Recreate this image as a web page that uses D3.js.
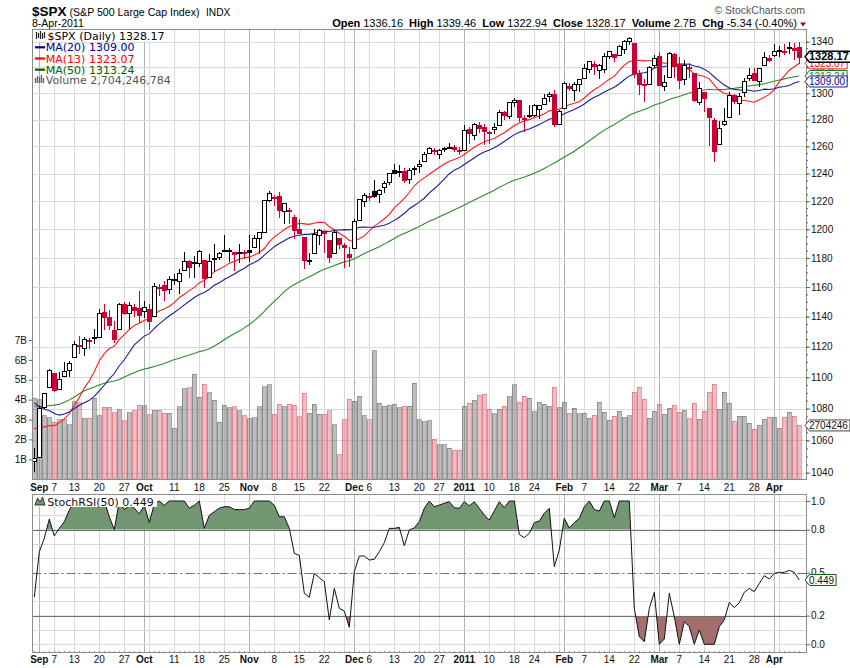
<!DOCTYPE html>
<html>
<head>
<meta charset="utf-8">
<script src="https://cdn.jsdelivr.net/npm/d3@7"></script>
<style>
  body { margin: 0; background: #fff; }
  svg { display: block; }
</style>
</head>
<body>
<div id="chart"></div>
<script>
//Trading days on the chart
const dates = [
  "2010-08-31",
  "2010-09-01","2010-09-02","2010-09-03","2010-09-07","2010-09-08","2010-09-09","2010-09-10","2010-09-13","2010-09-14","2010-09-15","2010-09-16","2010-09-17","2010-09-20","2010-09-21","2010-09-22","2010-09-23","2010-09-24","2010-09-27","2010-09-28","2010-09-29","2010-09-30",
  "2010-10-01","2010-10-04","2010-10-05","2010-10-06","2010-10-07","2010-10-08","2010-10-11","2010-10-12","2010-10-13","2010-10-14","2010-10-15","2010-10-18","2010-10-19","2010-10-20","2010-10-21","2010-10-22","2010-10-25","2010-10-26","2010-10-27","2010-10-28","2010-10-29",
  "2010-11-01","2010-11-02","2010-11-03","2010-11-04","2010-11-05","2010-11-08","2010-11-09","2010-11-10","2010-11-11","2010-11-12","2010-11-15","2010-11-16","2010-11-17","2010-11-18","2010-11-19","2010-11-22","2010-11-23","2010-11-24","2010-11-26","2010-11-29","2010-11-30",
  "2010-12-01","2010-12-02","2010-12-03","2010-12-06","2010-12-07","2010-12-08","2010-12-09","2010-12-10","2010-12-13","2010-12-14","2010-12-15","2010-12-16","2010-12-17","2010-12-20","2010-12-21","2010-12-22","2010-12-23","2010-12-27","2010-12-28","2010-12-29","2010-12-30","2010-12-31",
  "2011-01-03","2011-01-04","2011-01-05","2011-01-06","2011-01-07","2011-01-10","2011-01-11","2011-01-12","2011-01-13","2011-01-14","2011-01-18","2011-01-19","2011-01-20","2011-01-21","2011-01-24","2011-01-25","2011-01-26","2011-01-27","2011-01-28","2011-01-31",
  "2011-02-01","2011-02-02","2011-02-03","2011-02-04","2011-02-07","2011-02-08","2011-02-09","2011-02-10","2011-02-11","2011-02-14","2011-02-15","2011-02-16","2011-02-17","2011-02-18","2011-02-22","2011-02-23","2011-02-24","2011-02-25","2011-02-28",
  "2011-03-01","2011-03-02","2011-03-03","2011-03-04","2011-03-07","2011-03-08","2011-03-09","2011-03-10","2011-03-11","2011-03-14","2011-03-15","2011-03-16","2011-03-17","2011-03-18","2011-03-21","2011-03-22","2011-03-23","2011-03-24","2011-03-25","2011-03-28","2011-03-29","2011-03-30","2011-03-31",
  "2011-04-01","2011-04-04","2011-04-05","2011-04-06","2011-04-07","2011-04-08"
];

const opens = [
  1046.88,
  1049.72,1080.66,1093.61,1102.60,1092.36,1101.15,1104.57,1113.38,1121.16,1119.43,1123.89,1126.39,1126.57,1142.82,1139.49,1131.10,1131.69,1148.64,1142.31,1146.75,1145.97,
  1143.49,1144.96,1140.68,1159.81,1161.57,1158.36,1165.32,1164.28,1171.32,1177.82,1177.47,1176.83,1178.64,1166.74,1179.82,1180.52,1184.74,1184.88,1183.84,1184.47,1183.87,
  1185.71,1187.86,1193.79,1198.34,1221.20,1223.24,1223.59,1213.14,1213.04,1209.07,1200.44,1194.79,1178.33,1183.75,1196.12,1198.07,1192.51,1183.70,1194.16,1189.08,1182.96,
  1186.60,1206.81,1219.93,1223.87,1227.25,1225.02,1230.14,1233.85,1242.52,1241.84,1241.58,1236.34,1243.63,1245.76,1249.43,1254.94,1257.53,1254.66,1259.10,1258.78,1259.44,1256.76,
  1257.62,1272.95,1268.78,1276.29,1274.41,1270.84,1272.58,1275.65,1285.78,1282.90,1293.22,1294.52,1280.85,1283.63,1283.29,1288.17,1291.97,1297.51,1299.63,1276.50,
  1289.14,1305.91,1302.77,1307.01,1311.85,1318.76,1322.48,1318.13,1318.66,1328.73,1330.43,1329.51,1334.37,1340.38,1338.91,1315.44,1307.09,1307.34,1321.61,
  1328.64,1305.47,1312.37,1330.73,1322.72,1311.05,1319.92,1315.72,1293.43,1301.19,1288.46,1279.46,1261.61,1276.71,1281.65,1298.29,1292.19,1300.61,1311.80,1315.45,1309.37,1321.89,1327.44,
  1329.48,1333.56,1332.03,1335.94,1334.82,1336.16
];

const highs = [
  1055.14,
  1081.30,1090.10,1105.10,1102.60,1103.26,1110.27,1110.88,1123.87,1127.36,1126.46,1125.44,1131.47,1144.86,1148.59,1144.38,1136.77,1148.90,1149.92,1150.00,1148.63,1157.16,
  1150.30,1148.16,1162.76,1162.33,1163.87,1167.73,1168.68,1172.58,1184.38,1178.89,1181.20,1185.53,1178.64,1182.94,1189.43,1183.93,1196.14,1187.11,1183.84,1189.53,1185.46,
  1195.81,1195.88,1198.30,1221.25,1227.08,1224.57,1226.84,1218.75,1215.45,1210.50,1207.43,1194.79,1183.56,1200.29,1199.97,1198.94,1192.51,1198.62,1194.16,1190.34,1187.40,
  1207.61,1221.89,1225.57,1225.80,1235.05,1228.93,1234.71,1240.40,1246.73,1246.59,1244.25,1243.75,1245.81,1250.20,1255.82,1259.39,1258.59,1258.43,1259.90,1262.60,1261.09,1259.34,
  1276.17,1274.12,1277.63,1278.17,1276.83,1271.52,1277.25,1286.87,1286.70,1293.24,1296.06,1294.60,1283.35,1291.21,1291.93,1291.26,1299.74,1301.29,1302.67,1287.17,
  1308.86,1307.61,1308.60,1311.00,1322.85,1324.87,1324.54,1322.76,1330.79,1332.96,1330.43,1337.61,1341.50,1344.07,1338.91,1317.91,1310.91,1320.61,1329.38,
  1332.09,1314.19,1332.28,1331.08,1327.68,1325.74,1323.21,1315.72,1308.35,1301.19,1288.46,1280.91,1278.88,1288.88,1300.58,1299.35,1300.51,1311.34,1319.18,1319.74,1319.45,1331.74,1329.77,
  1337.85,1336.74,1338.21,1339.38,1338.80,1339.46
];

const lows = [
  1040.88,
  1049.72,1080.39,1093.61,1091.15,1092.36,1101.15,1101.15,1113.38,1115.58,1114.63,1118.88,1122.43,1126.57,1131.87,1131.58,1122.79,1131.69,1142.00,1132.09,1140.26,1136.08,
  1139.42,1131.87,1140.68,1154.85,1151.41,1155.58,1162.02,1155.71,1171.32,1166.71,1167.12,1174.55,1159.71,1166.74,1171.17,1178.99,1184.74,1177.72,1171.70,1177.10,1179.70,
  1177.65,1187.86,1183.56,1198.34,1220.29,1217.55,1208.94,1204.33,1204.49,1194.08,1197.15,1173.00,1175.82,1183.75,1189.44,1184.29,1176.91,1183.70,1186.93,1173.64,1174.14,
  1186.60,1206.81,1216.82,1220.67,1223.25,1219.50,1226.85,1232.58,1240.34,1238.17,1234.01,1232.85,1239.87,1241.51,1249.43,1254.94,1254.05,1251.48,1256.22,1258.78,1256.32,1254.19,
  1257.62,1262.66,1265.36,1270.43,1261.70,1262.18,1269.62,1275.65,1280.47,1281.24,1290.16,1278.92,1271.26,1282.07,1282.47,1281.07,1291.97,1294.41,1275.10,1276.50,
  1289.14,1302.62,1294.83,1301.67,1311.85,1316.03,1314.89,1311.74,1316.08,1326.90,1324.61,1329.51,1331.00,1338.12,1312.33,1299.55,1294.26,1307.34,1320.55,
  1306.14,1302.58,1312.37,1312.59,1303.99,1306.86,1312.27,1294.21,1291.99,1286.37,1261.12,1249.05,1261.61,1276.18,1281.65,1292.70,1284.05,1297.74,1310.15,1310.19,1305.26,1321.89,1325.03,
  1328.89,1329.10,1330.03,1331.09,1326.56,1322.94
];

const closes = [
  1049.33,
  1080.29,1090.10,1104.51,1091.84,1098.87,1104.18,1109.55,1121.90,1121.10,1125.07,1124.66,1125.59,1142.71,1139.78,1134.28,1124.83,1148.67,1142.16,1147.70,1144.73,1141.20,
  1146.24,1137.03,1160.75,1159.97,1158.06,1165.15,1165.32,1169.77,1178.10,1173.81,1176.19,1184.71,1165.90,1178.17,1180.26,1183.08,1185.62,1185.64,1182.45,1183.78,1183.26,
  1184.38,1193.57,1197.96,1221.06,1225.85,1223.25,1213.40,1218.71,1213.54,1199.21,1197.75,1178.34,1178.59,1196.69,1199.73,1197.84,1180.73,1198.35,1189.40,1187.76,1180.55,
  1206.07,1221.53,1224.71,1223.12,1223.75,1228.28,1233.00,1240.40,1240.46,1241.59,1235.23,1242.87,1243.91,1247.08,1254.60,1258.84,1256.77,1257.54,1258.51,1259.78,1257.88,1257.64,
  1271.87,1270.20,1276.56,1273.85,1271.50,1269.75,1274.48,1285.96,1283.76,1293.24,1295.02,1281.92,1280.26,1283.35,1290.84,1291.18,1296.63,1299.54,1276.34,1286.12,
  1307.59,1304.03,1307.10,1310.87,1319.05,1324.57,1320.88,1321.87,1329.15,1332.32,1328.01,1336.32,1340.43,1343.01,1315.44,1307.40,1306.10,1319.88,1327.22,
  1306.33,1308.44,1330.97,1321.15,1310.13,1321.82,1320.02,1295.11,1304.28,1296.39,1281.87,1256.88,1273.72,1279.21,1298.38,1293.77,1297.54,1309.66,1313.80,1310.19,1319.44,1328.26,1325.83,
  1332.41,1332.87,1332.63,1335.54,1333.51,1328.17
];

//Closes before the first visible day (needed by the moving averages)
const priorCloses = [
  1113.20,1095.31,1092.04,1073.69,1076.76,1074.57,1041.24,1030.71,
  1027.37,1022.58,1028.06,1060.27,1070.25,1077.96,1078.75,1095.34,1095.17,1096.48,1064.88,1071.25,1083.48,1069.59,1093.67,1102.66,1115.01,1113.84,1106.13,1101.53,1101.60,
  1125.86,1120.46,1127.24,1125.81,1121.64,1127.79,1121.06,1089.47,1083.61,1079.25,1079.38,1092.54,1094.16,1075.63,1071.69,1067.36,1051.87,1055.33,1047.22,1064.59,1048.92
];

//Volume, billions of shares
const volumes = [
  4.06,4.00,3.20,3.08,2.86,2.98,3.00,2.73,3.90,3.85,
  3.06,3.06,4.07,3.18,3.63,3.63,3.33,3.48,2.93,3.33,
  3.43,3.73,3.70,3.23,3.47,3.47,3.31,3.31,2.56,3.65,
  4.54,4.60,5.27,4.13,4.77,4.34,3.98,2.86,3.72,3.60,
  3.65,3.43,3.18,3.03,3.09,3.65,4.65,4.74,3.26,3.78,
  3.65,3.78,3.73,3.15,4.32,3.31,3.77,3.26,3.26,3.43,
  2.73,1.22,2.98,4.03,3.93,4.18,3.18,2.98,6.45,3.82,
  3.68,3.71,3.77,3.60,3.68,3.68,4.82,2.98,2.88,2.93,
  2.00,1.72,1.72,1.55,1.45,1.45,3.68,3.83,3.97,4.22,
  4.27,3.53,3.28,3.53,3.68,4.15,4.74,3.88,4.18,4.08,
  3.38,3.88,3.77,3.67,4.62,3.60,3.88,3.31,3.57,3.28,
  3.31,3.06,3.21,3.88,3.36,2.96,3.16,3.41,3.11,3.18,
  4.37,4.62,4.03,3.06,3.41,3.77,3.26,3.57,3.72,3.36,
  3.46,3.03,3.82,3.01,3.41,4.37,4.77,3.52,4.37,3.82,
  2.91,3.16,3.16,2.81,2.51,2.71,3.01,3.11,3.11,2.56,
  3.11,3.36,3.16,2.704
];

//StochRSI(50)
const stochRsi = [
  0.33,0.646,0.74,0.874,0.756,0.81,0.856,0.937,1,1,
  1,1,1,1,1,0.89,0.8,1,0.94,0.97,
  0.95,0.91,0.97,0.85,0.98,1,0.97,1,1,1,
  1,0.95,0.97,1,0.81,0.9,0.925,0.95,0.96,0.96,
  0.94,0.94,0.94,0.95,1,1,1,1,0.97,0.89,
  0.89,0.81,0.635,0.62,0.356,0.328,0.495,0.465,0.437,0.17,
  0.39,0.251,0.232,0.119,0.507,0.616,0.616,0.588,0.593,0.646,
  0.709,0.809,0.809,0.816,0.688,0.798,0.812,0.856,0.949,1,
  0.96,0.972,0.984,0.995,0.953,0.949,0.995,0.967,0.995,0.949,
  0.902,0.867,0.93,0.995,0.953,1,1,0.767,0.744,0.775,
  0.849,0.86,0.914,0.949,0.542,0.658,0.879,0.812,0.849,0.879,
  0.96,1,0.94,0.93,1,1,0.884,1,1,1,
  0.251,0.053,0.018,0.251,0.363,0,0.037,0.356,0.193,0,
  0.158,0.123,0,0.1,0,0,0,0.123,0.17,0.293,
  0.256,0.29,0.363,0.39,0.367,0.425,0.479,0.456,0.495,0.502,
  0.502,0.516,0.502,0.449
];

//Tick labels and grid dates
const axisLabelDates = ["2010-09-01","2010-09-07","2010-09-13","2010-09-20","2010-09-27","2010-10-01","2010-10-11","2010-10-18","2010-10-25","2010-11-01","2010-11-08","2010-11-15","2010-11-22","2010-12-01","2010-12-06","2010-12-13","2010-12-20","2010-12-27","2011-01-03","2011-01-10","2011-01-18","2011-01-24","2011-02-01","2011-02-07","2011-02-14","2011-02-22","2011-03-01","2011-03-07","2011-03-14","2011-03-21","2011-03-28","2011-04-01"];
const axisLabelTexts = ["Sep","7","13","20","27","Oct","11","18","25","Nov","8","15","22","Dec","6","13","20","27","2011","10","18","24","Feb","7","14","22","Mar","7","14","21","28","Apr"];
const monthStartDates = ["2010-09-01","2010-10-01","2010-11-01","2010-12-01","2011-01-03","2011-02-01","2011-03-01","2011-04-01"];
const weekStartDates = ["2010-09-07","2010-09-13","2010-09-20","2010-09-27","2010-10-04","2010-10-11","2010-10-18","2010-10-25","2010-11-08","2010-11-15","2010-11-22","2010-11-29","2010-12-06","2010-12-13","2010-12-20","2010-12-27","2011-01-10","2011-01-18","2011-01-24","2011-01-31","2011-02-07","2011-02-14","2011-02-22","2011-02-28","2011-03-07","2011-03-14","2011-03-21","2011-03-28","2011-04-04"];
const priceTicks = [1040,1060,1080,1100,1120,1140,1160,1180,1200,1220,1240,1260,1280,1300,1320,1340];
const volumeTicks = [1,2,3,4,5,6,7];
const stochTicks = [0,0.2,0.5,0.8,1.0];
const stochGridLevels = [0,0.1,0.3,0.4,0.6,0.7,0.9,1.0];

//Header text
const headerLabels = ["Open","High","Low","Close","Volume","Chg"];
const headerValues = ["1336.16","1339.46","1322.94","1328.17","2.7B","-5.34 (-0.40%)"];

//Layout
const width = 850, height = 668;
const priceFrame = { left: 32.5, right: 806.5, top: 29.5, bottom: 479.5 };
const stochFrame = { left: 32.5, right: 806.5, top: 494.5, bottom: 652.5 };
const axisFont = "'Liberation Sans', Arial, sans-serif";
const legendFont = "'DejaVu Sans', Verdana, sans-serif";
const downRed = "#cc0033";

const svg = d3.select("#chart").append("svg")
  .attr("width", width)
  .attr("height", height);

//Scales
var xScale = d3.scaleBand().domain(dates).range([31.8, 801.8]);
var xCenter = function(d) { return xScale(d) + xScale.bandwidth() / 2; };
var xPix = function(d) { return Math.floor(xCenter(d)) + 0.5; };
var yPrice = d3.scaleLog().domain([1040, 1340]).range([472.7, 41.7]);
var yVolume = d3.scaleLinear().domain([0, 7]).range([479.2, 340]);
var yStoch = d3.scaleLinear().domain([0, 1]).range([644.3, 501]);

function prevClose(i) {
  return i === 0 ? priorCloses[priorCloses.length - 1] : closes[i - 1];
}

//Moving averages, worked out from the closes as the chart does
const allCloses = priorCloses.concat(closes);
function movingAverage(n) {
  return dates.map(function(d, i) {
    var end = priorCloses.length + i + 1;
    return d3.mean(allCloses.slice(end - n, end));
  });
}
const maSeries = [
  { name: "MA(20)", values: movingAverage(20), line: "#1c1c94", text: "#000088" },
  { name: "MA(13)", values: movingAverage(13), line: "#ff1a1a", text: "#ff0000" },
  { name: "MA(50)", values: movingAverage(50), line: "#2a8a2a", text: "#006400" }
];

//Clip paths
var defs = svg.append("defs");
defs.append("clipPath").attr("id", "priceClip").append("rect")
  .attr("x", priceFrame.left).attr("y", priceFrame.top)
  .attr("width", priceFrame.right - priceFrame.left).attr("height", priceFrame.bottom - priceFrame.top);
defs.append("clipPath").attr("id", "aboveClip").append("rect")
  .attr("x", stochFrame.left).attr("y", stochFrame.top)
  .attr("width", stochFrame.right - stochFrame.left).attr("height", yStoch(0.8) - stochFrame.top);
defs.append("clipPath").attr("id", "belowClip").append("rect")
  .attr("x", stochFrame.left).attr("y", yStoch(0.2))
  .attr("width", stochFrame.right - stochFrame.left).attr("height", stochFrame.bottom - yStoch(0.2));

//Grid lines
var gridG = svg.append("g").attr("shape-rendering", "crispEdges");
[priceFrame, stochFrame].forEach(function(f) {
  gridG.append("g").selectAll("line")
    .data(weekStartDates)
    .join("line")
    .attr("x1", xPix).attr("x2", xPix)
    .attr("y1", f.top).attr("y2", f.bottom)
    .attr("stroke", "#dadada");
  gridG.append("g").selectAll("line")
    .data(monthStartDates)
    .join("line")
    .attr("x1", xPix).attr("x2", xPix)
    .attr("y1", f.top).attr("y2", f.bottom)
    .attr("stroke", "#b2b2b2");
});
gridG.append("g").selectAll("line")
  .data(priceTicks)
  .join("line")
  .attr("x1", priceFrame.left).attr("x2", priceFrame.right)
  .attr("y1", function(p) { return Math.round(yPrice(p)) + 0.5; })
  .attr("y2", function(p) { return Math.round(yPrice(p)) + 0.5; })
  .attr("stroke", "#dadada");
gridG.append("g").selectAll("line")
  .data(stochGridLevels)
  .join("line")
  .attr("x1", stochFrame.left).attr("x2", stochFrame.right)
  .attr("y1", function(v) { return Math.round(yStoch(v)) + 0.5; })
  .attr("y2", function(v) { return Math.round(yStoch(v)) + 0.5; })
  .attr("stroke", "#dadada");

//Volume bars
var volumeG = svg.append("g").attr("clip-path", "url(#priceClip)").attr("shape-rendering", "crispEdges");
volumeG.selectAll("rect")
  .data(dates)
  .join("rect")
  .attr("x", function(d) { return xScale(d) + 0.5; })
  .attr("width", xScale.bandwidth() - 1)
  .attr("y", function(d, i) { return yVolume(volumes[i]); })
  .attr("height", function(d, i) { return yVolume(0) - yVolume(volumes[i]); })
  .attr("fill", function(d, i) { return closes[i] < prevClose(i) ? "rgba(214,84,100,0.38)" : "rgba(120,120,120,0.48)"; })
  .attr("stroke", function(d, i) { return closes[i] < prevClose(i) ? "rgba(214,84,100,0.55)" : "rgba(110,110,110,0.6)"; });

//Moving average lines
var maG = svg.append("g").attr("clip-path", "url(#priceClip)");
maSeries.slice().reverse().forEach(function(s) {
  maG.append("path")
    .datum(dates)
    .attr("fill", "none")
    .attr("stroke", s.line)
    .attr("stroke-width", 1.1)
    .attr("d", d3.line()
      .x(function(d) { return xCenter(d); })
      .y(function(d, i) { return yPrice(s.values[i]); }));
});

//Candles
var candleG = svg.append("g").attr("clip-path", "url(#priceClip)").attr("shape-rendering", "crispEdges");
var candle = candleG.selectAll("g")
  .data(dates)
  .join("g");
candle.append("line")
  .attr("x1", xPix).attr("x2", xPix)
  .attr("y1", function(d, i) { return Math.round(yPrice(highs[i])); })
  .attr("y2", function(d, i) { return Math.round(yPrice(lows[i])) + 1; })
  .attr("stroke", function(d, i) { return closes[i] < prevClose(i) ? downRed : "#000"; });
candle.append("rect")
  .attr("x", function(d) { return xPix(d) - 2; })
  .attr("width", 4)
  .attr("y", function(d, i) { return Math.round(yPrice(Math.max(opens[i], closes[i]))) + 0.5; })
  .attr("height", function(d, i) {
    var h = Math.round(yPrice(Math.min(opens[i], closes[i]))) - Math.round(yPrice(Math.max(opens[i], closes[i])));
    return Math.max(h, 1);
  })
  .attr("stroke", function(d, i) { return closes[i] < prevClose(i) ? downRed : "#000"; })
  .attr("fill", function(d, i) {
    if (closes[i] >= opens[i]) return "#fff";
    return closes[i] < prevClose(i) ? downRed : "#000";
  });

//StochRSI shading and line
var stochG = svg.append("g");
stochG.append("path")
  .datum(dates)
  .attr("clip-path", "url(#aboveClip)")
  .attr("fill", "#729672")
  .attr("d", d3.area()
    .x(function(d) { return xCenter(d); })
    .y0(yStoch(0.8))
    .y1(function(d, i) { return yStoch(stochRsi[i]); }));
stochG.append("path")
  .datum(dates)
  .attr("clip-path", "url(#belowClip)")
  .attr("fill", "#a36f6c")
  .attr("d", d3.area()
    .x(function(d) { return xCenter(d); })
    .y0(yStoch(0.2))
    .y1(function(d, i) { return yStoch(stochRsi[i]); }));
[0.2, 0.8].forEach(function(v) {
  stochG.append("line")
    .attr("x1", stochFrame.left).attr("x2", stochFrame.right)
    .attr("y1", Math.round(yStoch(v)) + 0.5).attr("y2", Math.round(yStoch(v)) + 0.5)
    .attr("stroke", "#707070");
});
stochG.append("line")
  .attr("x1", stochFrame.left).attr("x2", stochFrame.right)
  .attr("y1", Math.round(yStoch(0.5)) + 0.5).attr("y2", Math.round(yStoch(0.5)) + 0.5)
  .attr("stroke", "#707070")
  .attr("stroke-dasharray", "9,3,2,3");
stochG.append("path")
  .datum(dates)
  .attr("fill", "none")
  .attr("stroke", "#111")
  .attr("stroke-width", 1)
  .attr("d", d3.line()
    .x(function(d) { return xCenter(d); })
    .y(function(d, i) { return yStoch(stochRsi[i]); }));

//Panel frames with small day ticks along the bottom edge
[priceFrame, stochFrame].forEach(function(f) {
  svg.append("g").attr("shape-rendering", "crispEdges").selectAll("line")
    .data(dates)
    .join("line")
    .attr("x1", xPix).attr("x2", xPix)
    .attr("y1", f.bottom - 2).attr("y2", f.bottom)
    .attr("stroke", "#999");
  svg.append("rect")
    .attr("x", f.left).attr("y", f.top)
    .attr("width", f.right - f.left).attr("height", f.bottom - f.top)
    .attr("fill", "none")
    .attr("stroke", "#8c8c8c")
    .attr("shape-rendering", "crispEdges");
});

//Axes
function styleAxis(g) {
  g.select(".domain").remove();
  g.selectAll("text").attr("font-family", axisFont).attr("font-size", 10).attr("fill", "#111");
  g.selectAll("line").attr("stroke", "#666");
}
svg.append("g")
  .attr("transform", "translate(" + (priceFrame.right - 0.5) + ",0)")
  .call(d3.axisRight(yPrice).tickValues(d3.range(1040, 1345, 5)).tickSize(2).tickFormat(""))
  .call(styleAxis);
svg.append("g")
  .attr("transform", "translate(" + (priceFrame.right - 0.5) + ",0)")
  .call(d3.axisRight(yPrice).tickValues(priceTicks).tickSize(4).tickPadding(1).tickFormat(d3.format("d")))
  .call(styleAxis);
svg.append("g")
  .attr("transform", "translate(" + (priceFrame.left + 0.5) + ",0)")
  .call(d3.axisLeft(yVolume).tickValues(volumeTicks).tickSize(4).tickPadding(2).tickFormat(function(v) { return v + "B"; }))
  .call(styleAxis);
svg.append("g")
  .attr("transform", "translate(" + (stochFrame.right - 0.5) + ",0)")
  .call(d3.axisRight(yStoch).tickValues(stochTicks).tickSize(4).tickPadding(1).tickFormat(d3.format(".1f")))
  .call(styleAxis);

//Date labels under both panels
[491, 662.5].forEach(function(yy) {
  svg.append("g").selectAll("text")
    .data(axisLabelDates)
    .join("text")
    .attr("x", function(d) { return xCenter(d); })
    .attr("y", yy)
    .attr("text-anchor", "middle")
    .attr("font-family", axisFont)
    .attr("font-size", 10)
    .attr("font-weight", function(d) { return monthStartDates.indexOf(d) >= 0 ? "bold" : "normal"; })
    .attr("fill", "#111")
    .text(function(d, i) { return axisLabelTexts[i]; });
});

//Value tags on the right edge
function valueTag(y, label, stroke, color, bold) {
  var g = svg.append("g");
  var path = g.append("path");
  var t = g.append("text")
    .attr("x", 809)
    .attr("y", y + 3.6)
    .attr("font-family", axisFont)
    .attr("font-size", bold ? 11 : 10)
    .attr("font-weight", bold ? "bold" : "normal")
    .attr("fill", color)
    .text(label);
  var w = t.node().getComputedTextLength();
  var x0 = 805, x1 = 809 + w + 2;
  path.attr("d", "M" + x0 + "," + y + "L" + (x0 + 4.5) + "," + (y - 5.5) + "L" + x1 + "," + (y - 5.5) +
      "L" + x1 + "," + (y + 5.5) + "L" + (x0 + 4.5) + "," + (y + 5.5) + "Z")
    .attr("fill", "#fff")
    .attr("stroke", stroke)
    .attr("stroke-width", bold ? 1.4 : 1);
}
const lastIndex = dates.length - 1;
valueTag(yPrice(maSeries[2].values[lastIndex]), maSeries[2].values[lastIndex].toFixed(2), "#1a7a1a", "#1a7a1a", false);
valueTag(yPrice(maSeries[0].values[lastIndex]), maSeries[0].values[lastIndex].toFixed(2), "#1c1c94", "#000088", false);
valueTag(yPrice(maSeries[1].values[lastIndex]), maSeries[1].values[lastIndex].toFixed(2), "#ff1a1a", "#ff0000", false);
valueTag(yPrice(closes[lastIndex]), closes[lastIndex].toFixed(2), "#000", "#000", true);
valueTag(yVolume(volumes[lastIndex]), "2704246", "#444", "#111", false);
valueTag(yStoch(stochRsi[lastIndex]), stochRsi[lastIndex].toFixed(3), "#0c5a0c", "#111", false);

//Price panel legend
var legend = svg.append("g").attr("font-family", legendFont).attr("font-size", 11);
legend.append("rect").attr("x", 33).attr("y", 30).attr("width", 134).attr("height", 11.5).attr("fill", "#fff");
legend.append("path")
  .attr("d", "M36.5,32V39M38.5,33V38M40.5,31V39M42.5,33V39M44.5,32V38")
  .attr("stroke", "#222").attr("stroke-width", 1.2);
legend.append("text").attr("x", 47.5).attr("y", 40).attr("fill", "#000")
  .text("$SPX (Daily) " + closes[lastIndex].toFixed(2));
maSeries.forEach(function(s, k) {
  var yy = 51.3 + k * 11.2;
  legend.append("line")
    .attr("x1", 35).attr("x2", 45).attr("y1", yy - 4).attr("y2", yy - 4)
    .attr("stroke", s.text).attr("stroke-width", 2.2);
  legend.append("text").attr("x", 45.8).attr("y", yy).attr("fill", s.text)
    .text(s.name + " " + s.values[lastIndex].toFixed(2));
});
legend.append("path")
  .attr("d", "M35.5,83V78M37.5,83V76M39.5,83V77M41.5,83V75M43.5,83V78")
  .attr("stroke", "#666").attr("stroke-width", 1.4);
legend.append("text").attr("x", 45.8).attr("y", 84).attr("fill", "#555")
  .text("Volume " + d3.format(",")(2704246784));

//StochRSI legend
var stochLegend = svg.append("g").attr("font-family", legendFont).attr("font-size", 11);
stochLegend.append("rect").attr("x", 33).attr("y", 495).attr("width", 124).attr("height", 12).attr("fill", "#fff");
stochLegend.append("path")
  .attr("d", "M35,505L37.5,498L40,502L42.5,497L45,505Z")
  .attr("fill", "#729672").attr("stroke", "#111").attr("stroke-width", 0.8);
stochLegend.append("text").attr("x", 47.3).attr("y", 505.5).attr("fill", "#111")
  .text("StochRSI(50) " + stochRsi[lastIndex].toFixed(3));

//Header
svg.append("text")
  .attr("x", 32).attr("y", 15.5)
  .attr("font-family", axisFont).attr("font-size", 13.5).attr("font-weight", "bold")
  .text("$SPX");
svg.append("text")
  .attr("x", 69.5).attr("y", 15.5)
  .attr("font-family", axisFont).attr("font-size", 10.6)
  .text("(S&P 500 Large Cap Index)");
svg.append("text")
  .attr("x", 206).attr("y", 15.5)
  .attr("font-family", axisFont).attr("font-size", 10.2)
  .text("INDX");
svg.append("text")
  .attr("x", 32).attr("y", 26.5)
  .attr("font-family", axisFont).attr("font-size", 10.5)
  .text("8-Apr-2011");
svg.append("text")
  .attr("x", 805).attr("y", 14)
  .attr("text-anchor", "end")
  .attr("font-family", axisFont).attr("font-size", 10.5).attr("fill", "#555")
  .text("\u00a9 StockCharts.com");

var stats = svg.append("text")
  .attr("x", 797).attr("y", 26.5)
  .attr("text-anchor", "end")
  .attr("font-family", axisFont)
  .attr("font-size", 11)
  .attr("fill", "#000");
headerLabels.forEach(function(label, i) {
  stats.append("tspan").attr("dx", i ? 6 : 0).attr("font-weight", "bold").text(label);
  stats.append("tspan").attr("dx", 3).text(headerValues[i]);
});
svg.append("path")
  .attr("d", "M800,22.5L806,22.5L803,26.5Z")
  .attr("fill", "#a50021");
</script>
</body>
</html>
